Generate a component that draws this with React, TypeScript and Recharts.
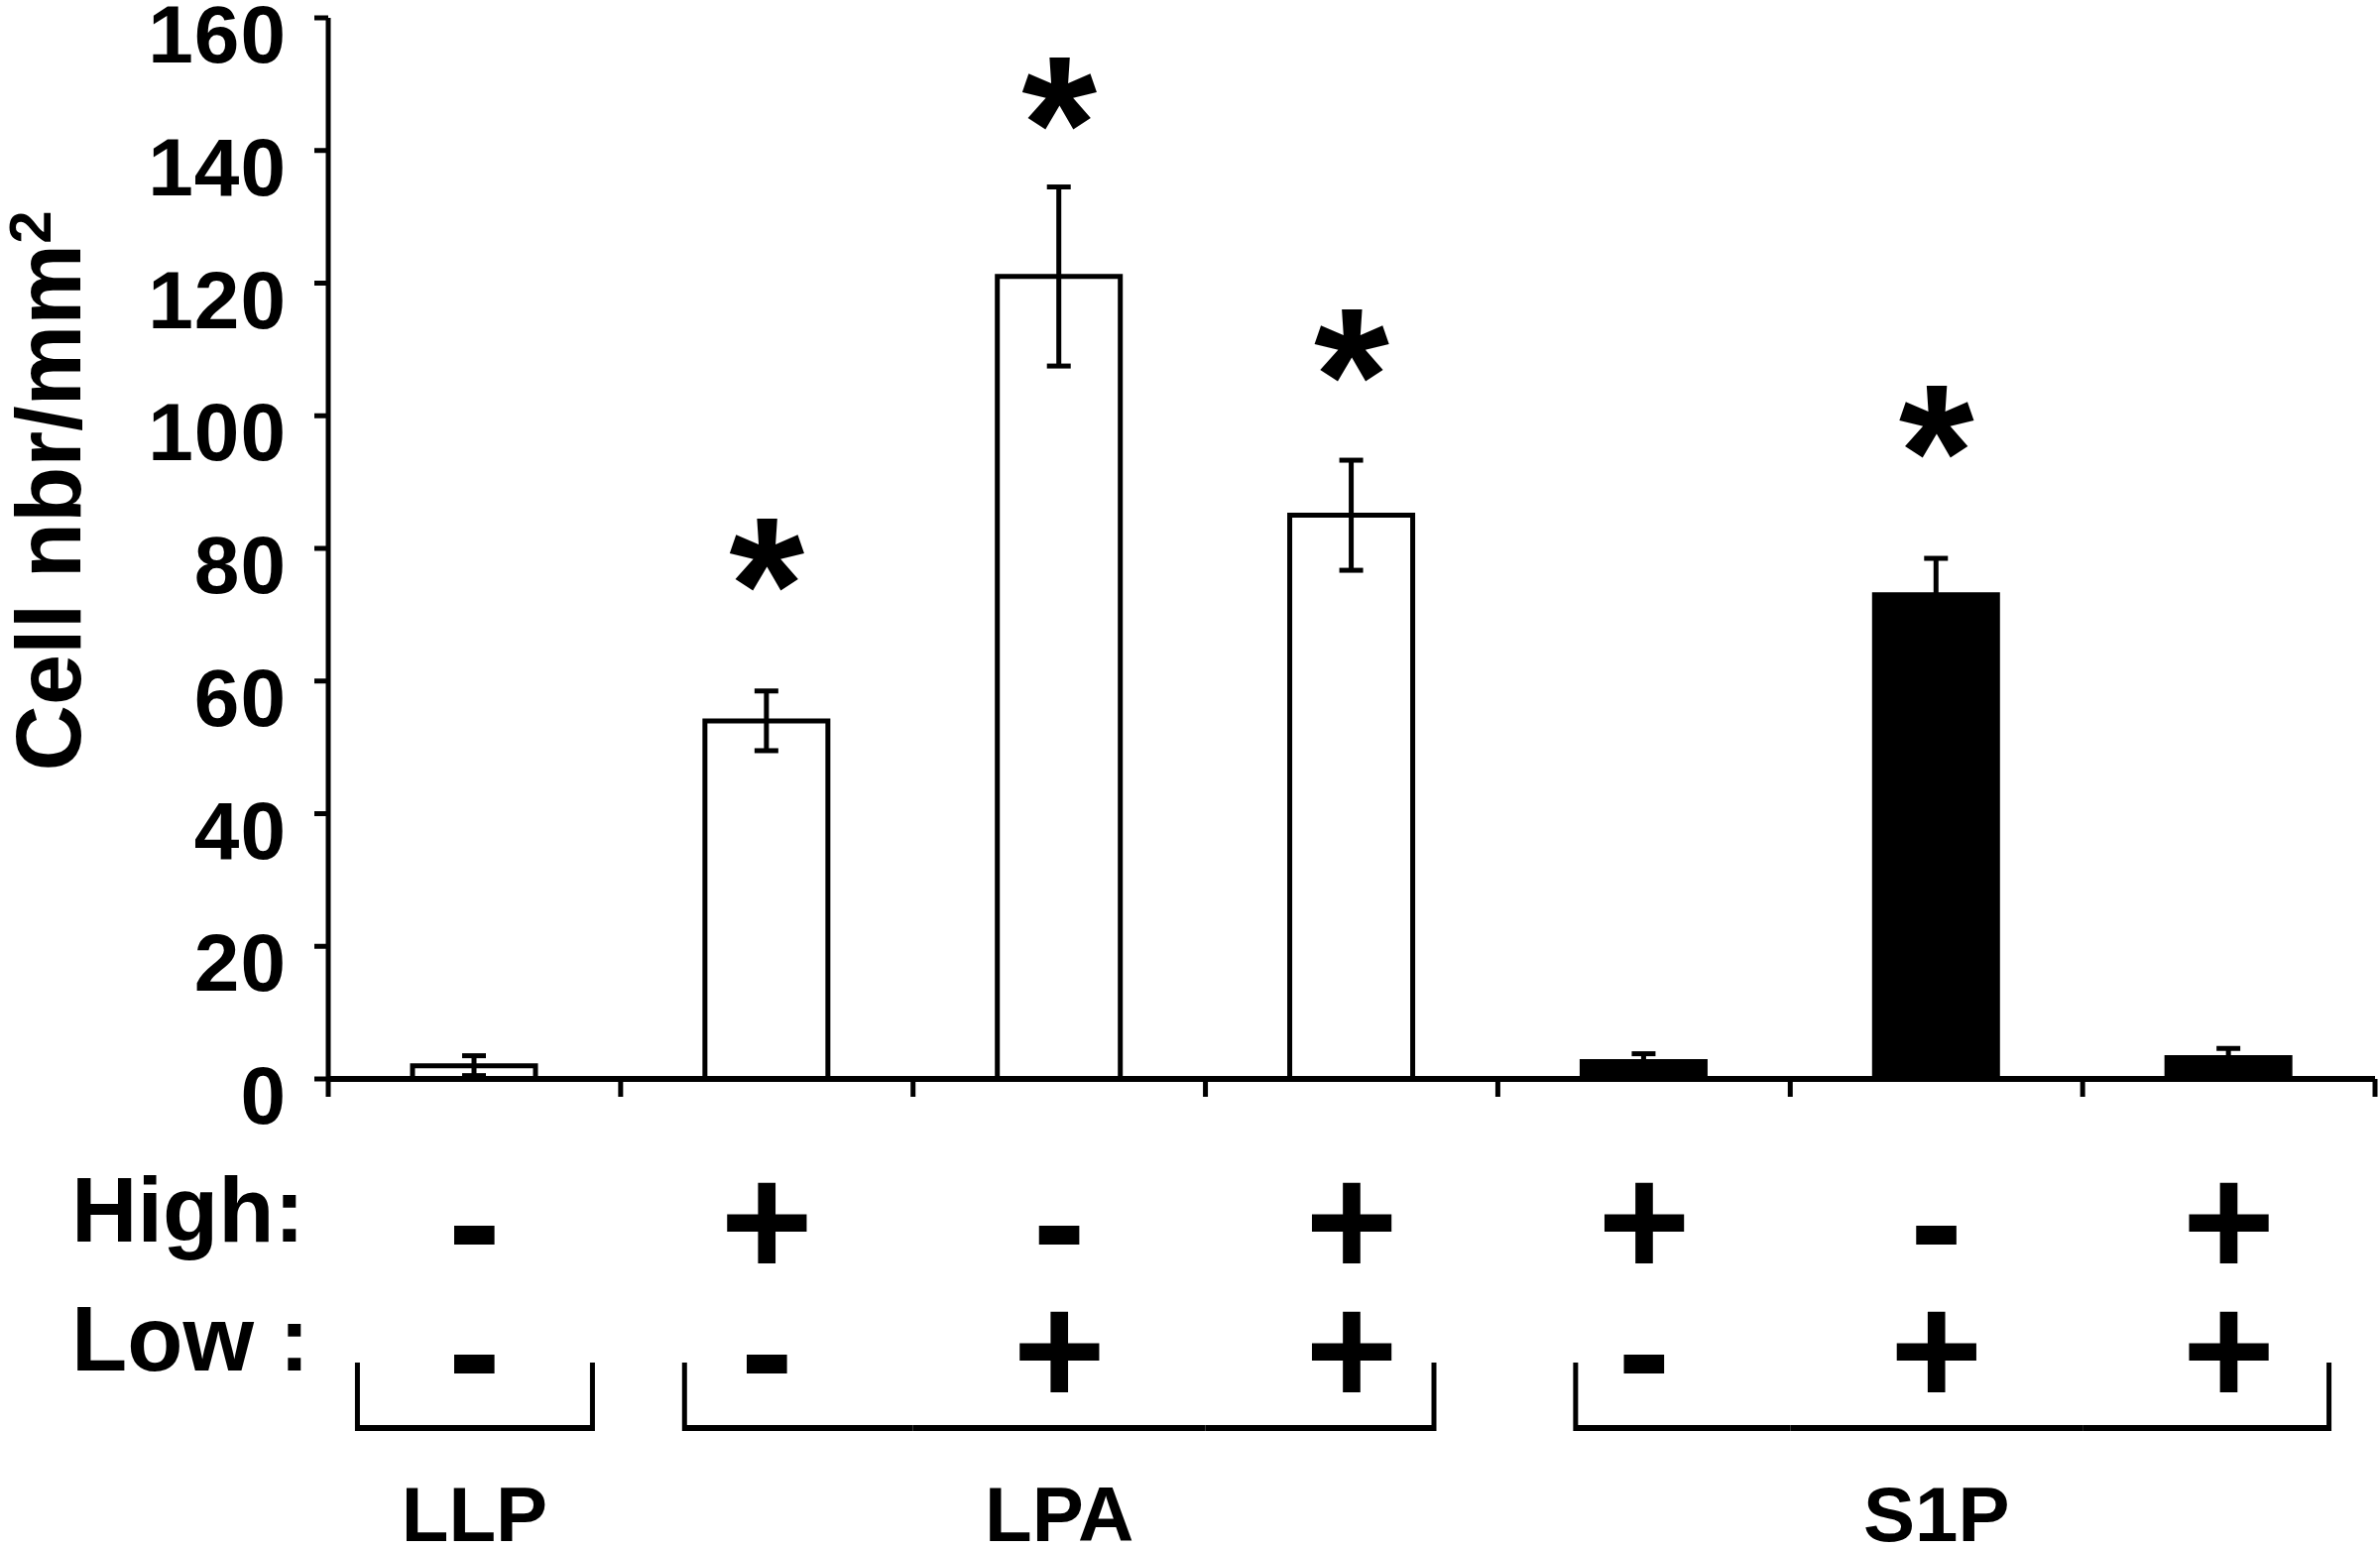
import { ComposedChart, Bar, Cell, XAxis, YAxis, ErrorBar, Scatter } from "recharts";

// one entry per bar, left to right
const conditions = ["LLP", "LPA high", "LPA low", "LPA high+low", "S1P high", "S1P low", "S1P high+low"];
const cellCounts = [2, 54, 121, 85, 2.6, 73, 3.2];
const sem = [1.5, 4.5, 13.5, 8.3, 1.2, 5.5, 1.4];
const stars = [null, 79, 148.5, 110.5, null, 99, null];
const filled = [false, false, false, false, true, true, true];
const highSigns = ["-", "+", "-", "+", "+", "-", "+"];
const lowSigns = ["-", "-", "+", "+", "-", "+", "+"];
const groupOf = [0, 1, 1, 1, 2, 2, 2];
const groupNames = ["LLP", "LPA", "S1P"];
const groupLabelAt = [0, 2, 5];
const yTicks = [0, 20, 40, 60, 80, 100, 120, 140, 160];

const data = conditions.map((c, i) => ({
  cond: c,
  value: cellCounts[i],
  err: sem[i],
  star: stars[i],
}));

const W = 2400;
const H = 1562;
const margin = { top: 18, right: 5, left: 0, bottom: 0 };
const yAxisW = 331;
const xAxisH = 474;
const band = (W - margin.left - margin.right - yAxisW) / conditions.length;
// bracket overhang past the first / last bar centre of each group
const bracketPad = [
  [118, 119],
  [83, 83],
  [69, 101],
];

const font = "'Liberation Sans', Arial, sans-serif";

const YTick = (props: any) => {
  const { x, y, payload } = props;
  return (
    <text x={x + 1} y={y + 45} textAnchor="end" fontFamily={font} fontWeight="bold" fontSize={82} letterSpacing={1} fill="#000">
      {payload.value}
    </text>
  );
};

const XTick = (props: any) => {
  const { x, y, payload } = props;
  const i = payload.index;
  const g = groupOf[i];
  const first = i === 0 || groupOf[i - 1] !== g;
  const last = i === conditions.length - 1 || groupOf[i + 1] !== g;
  const x0 = first ? x - bracketPad[g][0] : x - band / 2;
  const x1 = last ? x + bracketPad[g][1] : x + band / 2;
  const base = y;
  return (
    <g>
      <line x1={x - band / 2} x2={x - band / 2} y1={base} y2={base + 18} stroke="#000" strokeWidth={5} />
      {i === conditions.length - 1 && (
        <line x1={x + band / 2} x2={x + band / 2} y1={base} y2={base + 18} stroke="#000" strokeWidth={5} />
      )}
      {i === 0 && (
        <>
          <text x={72} y={base + 164} fontFamily={font} fontWeight="bold" fontSize={92} fill="#000">High:</text>
          <text x={72} y={base + 294} fontFamily={font} fontWeight="bold" fontSize={92} fill="#000">Low :</text>
        </>
      )}
      <text x={x} y={base + 199} textAnchor="middle" fontFamily={font} fontWeight="bold" fontSize={160} fill="#000">
        {highSigns[i]}
      </text>
      <text x={x} y={base + 329} textAnchor="middle" fontFamily={font} fontWeight="bold" fontSize={160} fill="#000">
        {lowSigns[i]}
      </text>
      <line x1={x0} x2={x1} y1={base + 352} y2={base + 352} stroke="#000" strokeWidth={6} />
      {first && <line x1={x0} x2={x0} y1={base + 286} y2={base + 355} stroke="#000" strokeWidth={5} />}
      {last && <line x1={x1} x2={x1} y1={base + 286} y2={base + 355} stroke="#000" strokeWidth={5} />}
      {groupLabelAt[g] === i && (
        <text x={x} y={base + 466} textAnchor="middle" fontFamily={font} fontWeight="bold" fontSize={78} fill="#000">
          {groupNames[g]}
        </text>
      )}
    </g>
  );
};

const Star = (props: any) => {
  const { cx, cy, payload } = props;
  if (payload == null || payload.star == null || cy == null || isNaN(cy)) return <g />;
  return (
    <text x={cx} y={cy + 97} textAnchor="middle" fontFamily={font} fontWeight="bold" fontSize={195} fill="#000">
      *
    </text>
  );
};

const YLabel = () => (
  <text
    x={81}
    y={495}
    transform="rotate(-90 81 495)"
    textAnchor="middle"
    fontFamily={font}
    fontWeight="bold"
    fontSize={92}
    fill="#000"
  >
    Cell nbr/mm
    <tspan fontSize={60} dy={-30}>2</tspan>
  </text>
);

export default function App() {
  return (
    <div style={{ position: "absolute", left: 0, top: 0, width: W, height: H, background: "#fff" }}>
      <ComposedChart width={W} height={H} data={data} margin={margin}>
        <XAxis
          dataKey="cond"
          height={xAxisH}
          interval={0}
          tickLine={false}
          tickSize={0}
          tickMargin={0}
          axisLine={{ stroke: "#000", strokeWidth: 6 }}
          tick={<XTick />}
        />
        <YAxis
          width={yAxisW}
          domain={[0, 160]}
          ticks={yTicks}
          interval={0}
          tickSize={14}
          tickMargin={29}
          axisLine={{ stroke: "#000", strokeWidth: 5 }}
          tickLine={{ stroke: "#000", strokeWidth: 5 }}
          tick={<YTick />}
          label={<YLabel />}
        />
        <Bar dataKey="value" barSize={124} stroke="#000" strokeWidth={5} isAnimationActive={false}>
          {data.map((d, i) => (
            <Cell key={d.cond} fill={filled[i] ? "#000" : "#fff"} />
          ))}
          <ErrorBar dataKey="err" direction="y" width={12} stroke="#000" strokeWidth={5} />
        </Bar>
        <Scatter dataKey="star" shape={(p: any) => <Star {...p} />} isAnimationActive={false} />
      </ComposedChart>
    </div>
  );
}
